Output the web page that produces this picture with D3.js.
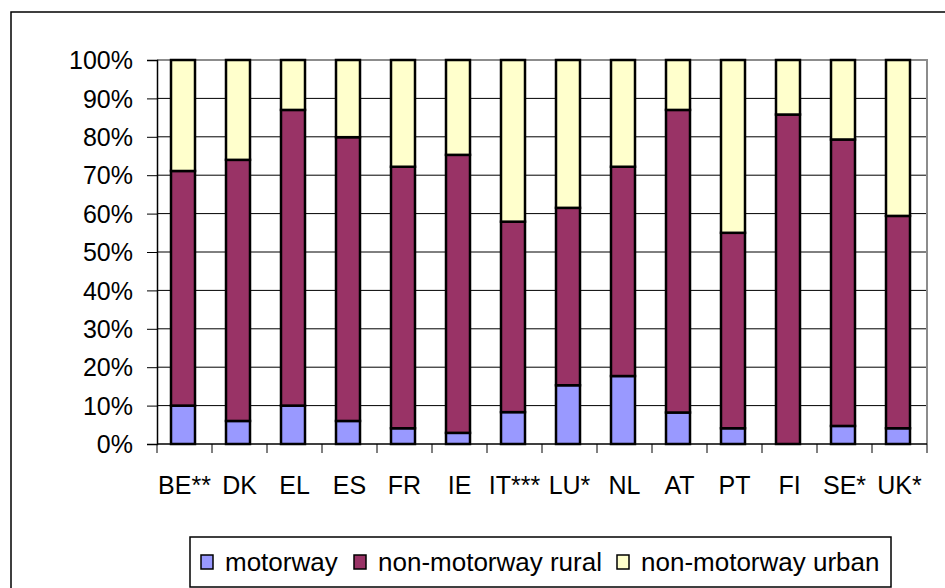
<!DOCTYPE html>
<html>
<head>
<meta charset="utf-8">
<script src="https://cdn.jsdelivr.net/npm/d3@7"></script>
<style>
  body { margin: 0; background: #fff; }
  svg text { font-family: "Liberation Sans", Arial, sans-serif; fill: #000; }
</style>
</head>
<body>
<div id="container"></div>
<script>
// data (share of each road type, %)
var countries = ["BE**", "DK", "EL", "ES", "FR", "IE", "IT***", "LU*", "NL", "AT", "PT", "FI", "SE*", "UK*"];
var motorway = [10.0, 6.0, 10.0, 6.0, 4.1, 2.9, 8.3, 15.3, 17.7, 8.2, 4.1, 0.0, 4.7, 4.1];
var rural    = [61.1, 68.0, 77.0, 73.9, 68.1, 72.4, 49.6, 46.2, 54.5, 78.8, 50.9, 85.8, 74.6, 55.3];
var series_names = ["motorway", "non-motorway rural", "non-motorway urban"];
var series_colors = ["#9999ff", "#993366", "#ffffcc"];
var y_ticks = [0, 10, 20, 30, 40, 50, 60, 70, 80, 90, 100];

var init = function(){
    var W = 945, H = 588;
    var left = 157, right = 927, top = 60, bottom = 444;

    var svg = d3.select("#container").append("svg")
        .attr("width", W).attr("height", H);

    // outer chart frame (runs off the right and bottom of the picture)
    svg.append("rect")
        .attr("x", 11).attr("y", 12)
        .attr("width", 960).attr("height", 600)
        .attr("fill", "#fff").attr("stroke", "#000").attr("stroke-width", 1.5);

    var table = countries.map(function(c, i){
        return {country: c, motorway: motorway[i], rural: rural[i],
                urban: 100 - motorway[i] - rural[i]};
    });

    var x = d3.scaleBand().domain(countries).range([left, right]);
    var y = d3.scaleLinear().domain([0, 100]).range([bottom, top]);

    // grid lines
    svg.append("g").selectAll("line")
        .data(y_ticks.filter(function(t){ return t > 0 && t < 100; }))
        .enter().append("line")
        .attr("x1", left).attr("x2", right)
        .attr("y1", function(d){ return y(d); })
        .attr("y2", function(d){ return y(d); })
        .attr("stroke", "#000").attr("stroke-width", 1);

    // plot area border (top + right, grey)
    svg.append("path")
        .attr("d", "M" + left + "," + y(100) + "H" + right + "V" + bottom)
        .attr("fill", "none").attr("stroke", "#8c8c8c").attr("stroke-width", 2);

    var stack = d3.stack().keys(["motorway", "rural", "urban"]);
    var layers = stack(table);
    var bw = 24;

    svg.append("g").selectAll("g")
        .data(layers).enter().append("g")
        .attr("fill", function(d, i){ return series_colors[i]; })
        .selectAll("rect")
        .data(function(d){ return d; })
        .enter().append("rect")
        .attr("x", function(d){ return x(d.data.country) + 14; })
        .attr("width", bw)
        .attr("y", function(d){ return y(d[1]); })
        .attr("height", function(d){ return y(d[0]) - y(d[1]); })
        .attr("stroke", "#000").attr("stroke-width", 2.5)
        .style("display", function(d){ return d[1] - d[0] > 0 ? null : "none"; });

    // y axis
    var yAxis = d3.axisLeft(y).tickValues(y_ticks)
        .tickFormat(function(d){ return d + "%"; })
        .tickSize(10).tickPadding(14);
    var gy = svg.append("g").attr("transform", "translate(" + left + ",0)").call(yAxis);
    gy.select(".domain").attr("stroke", "#000").attr("stroke-width", 1.5);
    gy.selectAll(".tick line").attr("stroke", "#000");
    gy.selectAll("text").attr("font-size", 25).attr("font-family", "Liberation Sans, Arial, sans-serif")
        .attr("dy", "0.35em");

    // x axis, ticks sit between categories
    var gx = svg.append("g").attr("transform", "translate(0," + bottom + ")");
    gx.append("line").attr("x1", left).attr("x2", right)
        .attr("stroke", "#000").attr("stroke-width", 1.5);
    var bounds = countries.map(function(c){ return x(c); }).concat([right]);
    gx.selectAll("line.tk").data(bounds).enter().append("line")
        .attr("class", "tk")
        .attr("x1", function(d){ return d; }).attr("x2", function(d){ return d; })
        .attr("y1", 0).attr("y2", 9)
        .attr("stroke", "#000").attr("stroke-width", 1);
    gx.selectAll("text").data(countries).enter().append("text")
        .attr("x", function(d){ return x(d) + x.bandwidth() / 2; })
        .attr("y", 50)
        .attr("text-anchor", "middle")
        .attr("font-size", 25)
        .text(function(d){ return d; });

    // legend
    var legend = svg.append("g");
    legend.append("rect")
        .attr("x", 190).attr("y", 537).attr("width", 701).attr("height", 50)
        .attr("fill", "#fff").attr("stroke", "#000").attr("stroke-width", 1.5);
    var item_x = [201, 354, 617];
    series_names.forEach(function(name, i){
        legend.append("rect")
            .attr("x", item_x[i]).attr("y", 555).attr("width", 12).attr("height", 14)
            .attr("fill", series_colors[i]).attr("stroke", "#000").attr("stroke-width", 1.5);
        legend.append("text")
            .attr("x", item_x[i] + 24).attr("y", 571)
            .attr("font-size", 26)
            .text(name);
    });
};

init();
</script>
</body>
</html>
